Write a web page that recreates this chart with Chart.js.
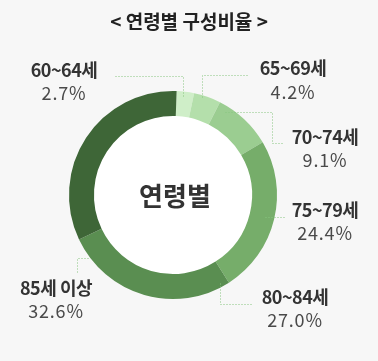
<!DOCTYPE html>
<html>
<head>
<meta charset="utf-8">
<script src="https://cdn.jsdelivr.net/npm/chart.js@4/dist/chart.umd.min.js"></script>
<style>
html,body{margin:0;padding:0;background:#f7f7f7;}
canvas{display:block;}
</style>
</head>
<body>
<canvas id="c" width="378" height="361"></canvas>
<script>
const title = '< 연령별 구성비율 >';
const centerLabel = '연령별';
const categories = ['60~64세', '65~69세', '70~74세', '75~79세', '80~84세', '85세 이상'];
const values = [2.7, 4.2, 9.1, 24.4, 27.0, 32.6];
const colors = ['#cfeec8', '#b4dfab', '#9bcd91', '#76ad6a', '#5a8e51', '#3e6637'];

// label layout (text centres) and leader-line routes
const labelLayout = [
  {x: 64,  y: 70,  dy: 23},
  {x: 293, y: 68,  dy: 24},
  {x: 325, y: 137, dy: 23},
  {x: 325, y: 210, dy: 23},
  {x: 295, y: 297, dy: 23},
  {x: 56,  y: 288, dy: 23}
];
const leaders = [
  [[115,76],[183,76],[183,96]],
  [[247,75],[202,75],[202,97]],
  [[225,112],[272,112],[272,143],[283,143]],
  [[265,217],[285,217]],
  [[220,283],[220,304],[252,304]],
  [[88,258],[77,258],[77,272]]
];

const FONT = '"Noto Sans CJK KR", "Noto Sans", sans-serif';

const decor = {
  id: 'decor',
  beforeDraw(chart) {
    const ctx = chart.ctx;
    ctx.save();
    ctx.fillStyle = '#f7f7f7';
    ctx.fillRect(0, 0, chart.width, chart.height);
    const arc = chart.getDatasetMeta(0).data[0];
    if (arc) {
      ctx.fillStyle = '#ffffff';
      ctx.beginPath();
      ctx.arc(arc.x, arc.y, arc.innerRadius + 1, 0, Math.PI * 2);
      ctx.fill();
    }
    ctx.restore();
  },
  afterDraw(chart) {
    const ctx = chart.ctx;
    const arc = chart.getDatasetMeta(0).data[0];
    ctx.save();
    ctx.textAlign = 'center';
    ctx.textBaseline = 'middle';
    // title
    ctx.fillStyle = '#222';
    ctx.font = 'bold 19px ' + FONT;
    ctx.letterSpacing = '0px';
    ctx.fillText(title, 189, 22);
    // centre label
    ctx.font = 'bold 26px ' + FONT;
    ctx.fillStyle = '#333';
    ctx.fillText(centerLabel, arc.x + 2, arc.y + 1);
    // leader lines
    ctx.strokeStyle = '#86c47e';
    ctx.lineWidth = 1;
    ctx.setLineDash([1, 2]);
    leaders.forEach(pts => {
      ctx.beginPath();
      pts.forEach((p, i) => i ? ctx.lineTo(p[0] + 0.5, p[1] + 0.5) : ctx.moveTo(p[0] + 0.5, p[1] + 0.5));
      ctx.stroke();
    });
    ctx.setLineDash([]);
    // labels
    categories.forEach((cat, i) => {
      const L = labelLayout[i];
      ctx.font = 'bold 18px ' + FONT;
      ctx.letterSpacing = '-0.5px';
      ctx.fillStyle = '#333';
      ctx.fillText(cat, L.x, L.y);
      ctx.font = '18px ' + FONT;
      ctx.letterSpacing = '0.8px';
      ctx.fillStyle = '#4a4a4a';
      ctx.fillText(values[i].toFixed(1) + '%', L.x, L.y + L.dy);
    });
    ctx.restore();
  }
};

new Chart(document.getElementById('c'), {
  type: 'doughnut',
  data: {
    labels: categories,
    datasets: [{
      data: values,
      backgroundColor: colors,
      borderWidth: 0
    }]
  },
  options: {
    responsive: false,
    animation: false,
    devicePixelRatio: 1,
    events: [],
    cutout: '76%',
    rotation: 2,
    layout: {padding: {top: 91, bottom: 62, left: 69, right: 101}},
    plugins: {legend: {display: false}, tooltip: {enabled: false}}
  },
  plugins: [decor]
});
</script>
</body>
</html>
